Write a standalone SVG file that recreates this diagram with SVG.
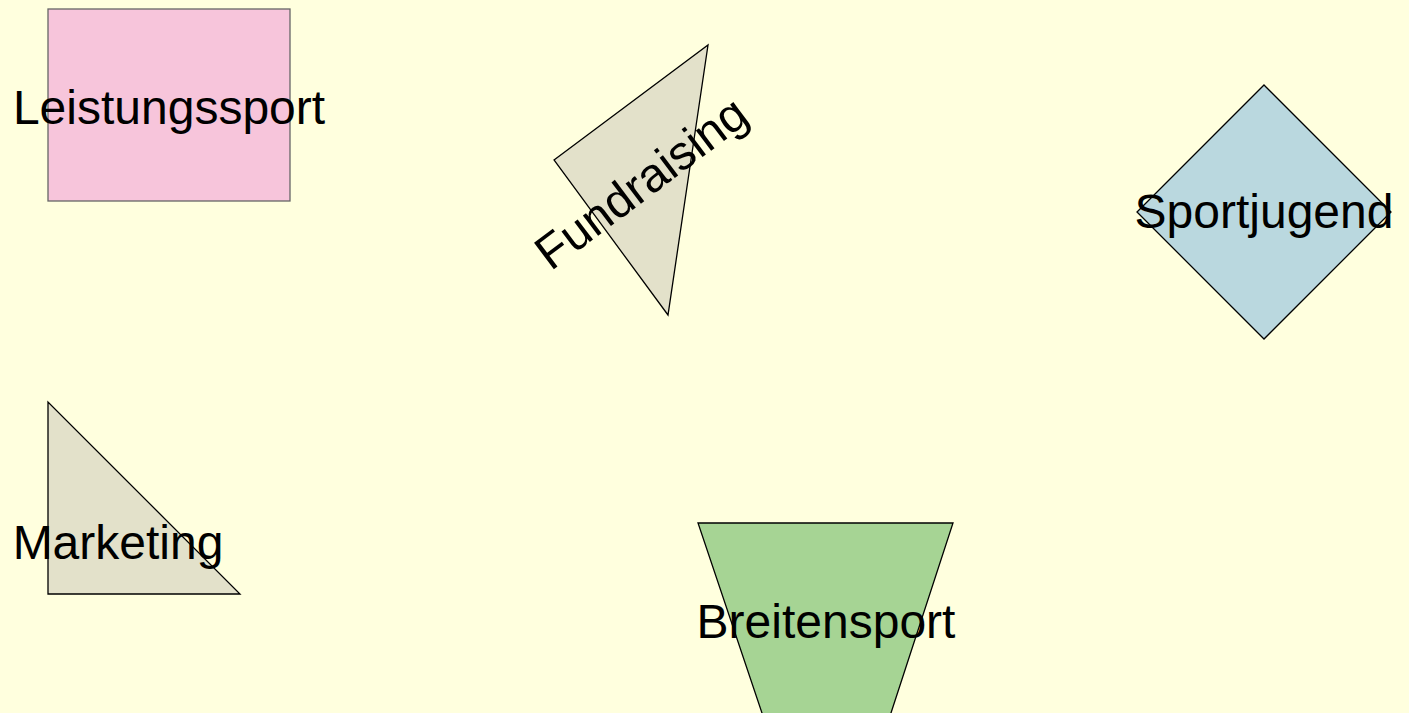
<svg xmlns="http://www.w3.org/2000/svg" width="1409" height="713" viewBox="0 0 1409 713">
<style>
text{font-family:"Liberation Sans",Arial,sans-serif;font-size:48px;fill:#000;text-anchor:middle}
.s{stroke:#000;stroke-width:1.3}
</style>
<rect x="0" y="0" width="1409" height="713" fill="#ffffde"/>
<g id="connectors"></g>
<g id="leistungssport">
<rect x="48" y="9" width="242" height="192" fill="#f7c5db" stroke="#666" stroke-width="1.3"/>
<text x="169" y="124">Leistungssport</text>
</g>
<g id="fundraising">
<polygon class="s" points="554,160 708,45 668,315" fill="#e3e1ca"/>
<text transform="translate(651,196) rotate(-37)">Fundraising</text>
</g>
<g id="sportjugend">
<polygon class="s" points="1264,85 1391,212 1264,339 1137,212" fill="#bad8df"/>
<text x="1264" y="228">Sportjugend</text>
</g>
<g id="marketing">
<polygon class="s" points="48,402 48,594 240,594" fill="#e3e1ca"/>
<text x="118" y="559">Marketing</text>
</g>
<g id="breitensport">
<polygon class="s" points="698,523 953,523 890,716 763,716" fill="#a6d494"/>
<text x="826" y="638">Breitensport</text>
</g>
</svg>
